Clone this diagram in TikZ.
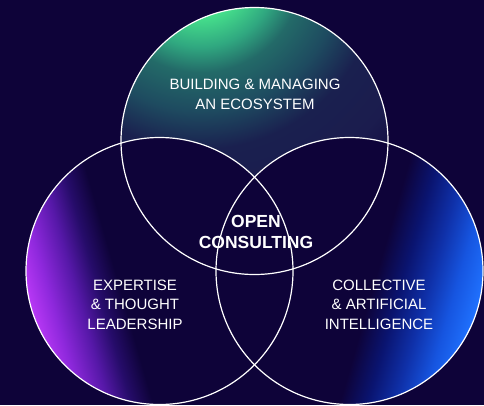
\documentclass[tikz,border=0pt]{standalone}
\usepackage{fontspec}
\setmainfont{Liberation Sans}
\usetikzlibrary{calc}

\definecolor{bgNavy}{HTML}{0E0339}
\definecolor{midNavy}{HTML}{1B1C4E}
\definecolor{deepNavy}{HTML}{1A204F}
\definecolor{tealDark}{HTML}{1E4B60}
\definecolor{tealMid}{HTML}{236A68}
\definecolor{tealGreen}{HTML}{30A880}
\definecolor{glowGreen}{HTML}{47E38C}
\definecolor{glowPurple}{HTML}{B838F5}
\definecolor{brightPurple}{HTML}{8E28DC}
\definecolor{midPurple}{HTML}{5618A8}
\definecolor{darkPurple}{HTML}{260C6A}
\definecolor{glowBlue}{HTML}{2072FF}
\definecolor{brightBlue}{HTML}{1655E0}
\definecolor{midBlue}{HTML}{0F30A8}
\definecolor{darkBlue}{HTML}{0A1470}

% top glow is radial (25bp = glow radius), side glows are linear (circle spans 25bp..75bp)
\pgfdeclareradialshading{greenglow}{\pgfpoint{0bp}{0bp}}{color(0bp)=(glowGreen); color(3.5bp)=(glowGreen); color(6bp)=(tealGreen); color(8bp)=(tealMid); color(11bp)=(tealDark); color(14bp)=(deepNavy); color(18bp)=(midNavy); color(23bp)=(bgNavy); color(50bp)=(bgNavy)}
\pgfdeclarehorizontalshading{purpleglow}{100bp}{color(0bp)=(glowPurple); color(25bp)=(glowPurple); color(29bp)=(brightPurple); color(34bp)=(midPurple); color(38bp)=(darkPurple); color(42bp)=(bgNavy); color(100bp)=(bgNavy)}
\pgfdeclarehorizontalshading{blueglow}{100bp}{color(0bp)=(bgNavy); color(55bp)=(bgNavy); color(60bp)=(darkBlue); color(65bp)=(midBlue); color(70bp)=(brightBlue); color(75bp)=(glowBlue); color(100bp)=(glowBlue)}

\tikzset{
    ring/.style={draw=white, line width=1.2pt},
    label/.style={text=white, align=center, font=\fontsize{15}{19.5}\selectfont},
    core/.style={text=white, align=center, font=\fontsize{17.5}{21}\selectfont\bfseries}
}

\begin{document}
\begin{tikzpicture}[x=1pt, y=-1pt]
    % background
    \fill[bgNavy] (0,0) rectangle (484,405);
    \useasboundingbox (0,0) rectangle (484,405);

    % Define centres of the three circles
    \coordinate (pTop) at (254.5,141);
    \coordinate (pLeft) at (159.5,271);
    \coordinate (pRight) at (349.5,271);

    % Glow centre of the top circle
    \coordinate (gTop) at (200,-30);

    % Glowing fills, clipped to each circle
    \begin{scope}
        \clip (pTop) circle[radius=133.5pt];
        \shade[shading=greenglow] (gTop) circle[radius=320pt];
    \end{scope}
    \begin{scope}
        \clip (pLeft) circle[radius=133.5pt];
        \shade[shading=purpleglow, transform canvas={rotate around={16:(pLeft)}}]
            ($(pLeft)+(-133.5,-220)$) rectangle ($(pLeft)+(133.5,220)$);
    \end{scope}
    \begin{scope}
        \clip (pRight) circle[radius=133.5pt];
        \shade[shading=blueglow, transform canvas={rotate around={-16:(pRight)}}]
            ($(pRight)+(-133.5,-220)$) rectangle ($(pRight)+(133.5,220)$);
    \end{scope}

    % White outlines
    \draw[ring] (pTop) circle[radius=133.5pt];
    \draw[ring] (pLeft) circle[radius=133.5pt];
    \draw[ring] (pRight) circle[radius=133.5pt];

    % Labels (base = last line)
    \node[label, anchor=base] (ecosystem) at (255,109) {BUILDING \& MANAGING\\AN ECOSYSTEM};
    \node[label, anchor=base] (expertise) at (135,329) {EXPERTISE\\\& THOUGHT\\LEADERSHIP};
    \node[label, anchor=base] (collective) at (379,329) {COLLECTIVE\\\& ARTIFICIAL\\INTELLIGENCE};
    \node[core, anchor=base] (open) at (256,248) {OPEN\\CONSULTING};

\end{tikzpicture}
\end{document}
